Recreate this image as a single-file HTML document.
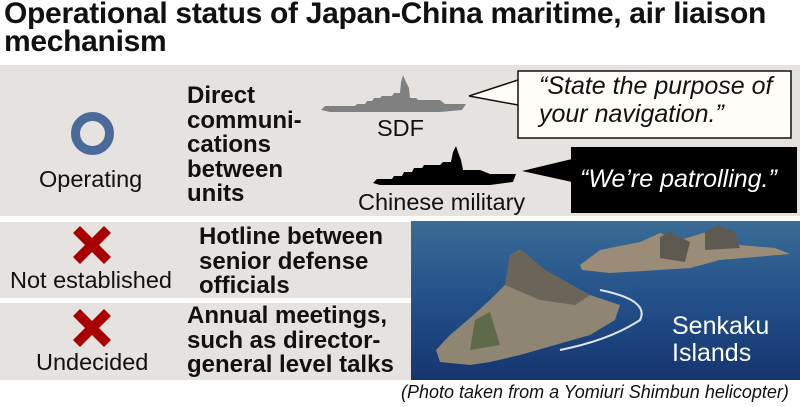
<!DOCTYPE html>
<html><head><meta charset="utf-8"><style>
*{margin:0;padding:0}
body{width:800px;height:407px;background:#fff;font-family:"Liberation Sans",Arial,sans-serif;position:relative;overflow:hidden}
.a{position:absolute;white-space:nowrap}
.t{font-weight:bold;font-size:30px;line-height:28px;left:4px;top:0px;color:#111;letter-spacing:-0.3px}
.row{position:absolute;left:0;background:#e6e2df}
.b{font-weight:bold;font-size:24px;line-height:24.5px;color:#111}
.n{font-size:23.5px;color:#111}
</style></head><body>
<div class="a t">Operational status of Japan-China maritime, air liaison<br>mechanism</div>
<div class="row" style="top:65px;height:151px;width:800px"></div>
<div class="row" style="top:222px;height:76px;width:411px"></div>
<div class="row" style="top:303px;height:77px;width:411px"></div>
<div class="a" style="left:71px;top:112px;width:25px;height:25px;border:9px solid #4a6a9a;border-radius:50%"></div>
<div class="a n" style="left:39px;top:166px">Operating</div>
<div class="a b" style="left:187px;top:84px">Direct<br>communi-<br>cations<br>between<br>units</div>
<svg class="a" style="left:0;top:0" width="800" height="407">
<g fill="#a80000"><path d="M73 233 L80 226 L92 238 L104 226 L111 233 L99 245 L111 257 L104 264 L92 252 L80 264 L73 257 L85 245Z"/>
<path d="M73 316 L80 309 L92 321 L104 309 L111 316 L99 328 L111 340 L104 347 L92 335 L80 347 L73 340 L85 328Z"/></g>
<path fill="#808080" d="M321 110 L325 106 L355 106 L357 104 L365 104 L367 101 L372 101 L374 98 L380 98 L382 96 L392 96 L394 93 L400 93 L401 82 L403 75 L405 80 L409 88 L410 98 L416 98 L418 100 L440 100 L445 104 L466 104 L462 110 L440 112 L330 112Z"/>
<path fill="#000" d="M373 183 L377 179 L392 179 L394 176 L402 176 L404 172 L412 172 L414 168 L422 168 L424 165 L440 165 L443 162 L451 162 L453 152 L456 146 L458 152 L461 160 L463 170 L480 170 L490 174 L516 174 L513 182 L490 185 L380 185Z"/>
<path d="M518 80 L469 96 L518 105" fill="#fffdf8" stroke="#111" stroke-width="1.5"/>
<rect x="518" y="71" width="273" height="67" fill="#fffdf8" stroke="#111" stroke-width="1.5"/>
<rect x="519" y="81" width="3" height="23" fill="#fffdf8"/>
<path d="M572 159 L522 171 L572 182Z" fill="#000"/>
<rect x="571" y="147" width="226" height="66" fill="#000"/>
<defs><linearGradient id="sea" x1="0" y1="0" x2="0" y2="1"><stop offset="0" stop-color="#3a6c95"/><stop offset="0.5" stop-color="#23508a"/><stop offset="1" stop-color="#16356f"/></linearGradient></defs>
<rect x="411" y="221" width="389" height="159" fill="url(#sea)"/>
<path fill="#8e8572" d="M436 350 L450 335 L470 318 L490 300 L505 285 L510 255 L520 250 L545 270 L590 295 L620 305 L615 320 L590 335 L555 345 L520 355 L490 362 L470 365 L440 362Z"/>
<path fill="#6a6558" d="M505 285 L510 255 L522 250 L545 270 L590 295 L575 305 L540 300Z"/>
<path fill="#5f6a4a" d="M475 320 L490 312 L500 345 L470 350Z"/>
<path fill="#9a8c76" d="M580 265 L600 250 L640 242 L660 233 L680 240 L700 234 L720 228 L740 245 L775 248 L790 254 L720 260 L690 268 L610 273 L582 270Z"/>
<path fill="#5e5a52" d="M660 237 L670 232 L690 242 L685 262 L660 258Z M705 232 L718 225 L735 232 L740 248 L705 250Z"/>
<path fill="none" stroke="#dfe6ee" stroke-width="2" d="M600 290 Q650 300 640 320 Q610 340 560 350"/>
</svg>
<div class="a" style="left:377px;top:115px;font-size:23.5px;color:#111">SDF</div>
<div class="a" style="left:358px;top:189px;font-size:23.5px;color:#111">Chinese military</div>
<div class="a" style="left:539px;top:72px;font-size:25px;line-height:28px;font-style:italic;color:#111">“State the purpose of<br>your navigation.”</div>
<div class="a" style="left:580px;top:165px;font-size:25px;font-style:italic;color:#fff">“We’re patrolling.”</div>
<div class="a n" style="left:10px;top:267px">Not established</div>
<div class="a b" style="left:199px;top:225px">Hotline between<br>senior defense<br>officials</div>
<div class="a n" style="left:36px;top:349px">Undecided</div>
<div class="a b" style="left:187px;top:304px">Annual meetings,<br>such as director-<br>general level talks</div>
<div class="a" style="left:672px;top:313px;font-size:25px;line-height:27px;color:#fff">Senkaku<br>Islands</div>
<div class="a" style="left:401px;top:382px;font-size:18px;font-style:italic;color:#111">(Photo taken from a Yomiuri Shimbun helicopter)</div>
</body></html>
